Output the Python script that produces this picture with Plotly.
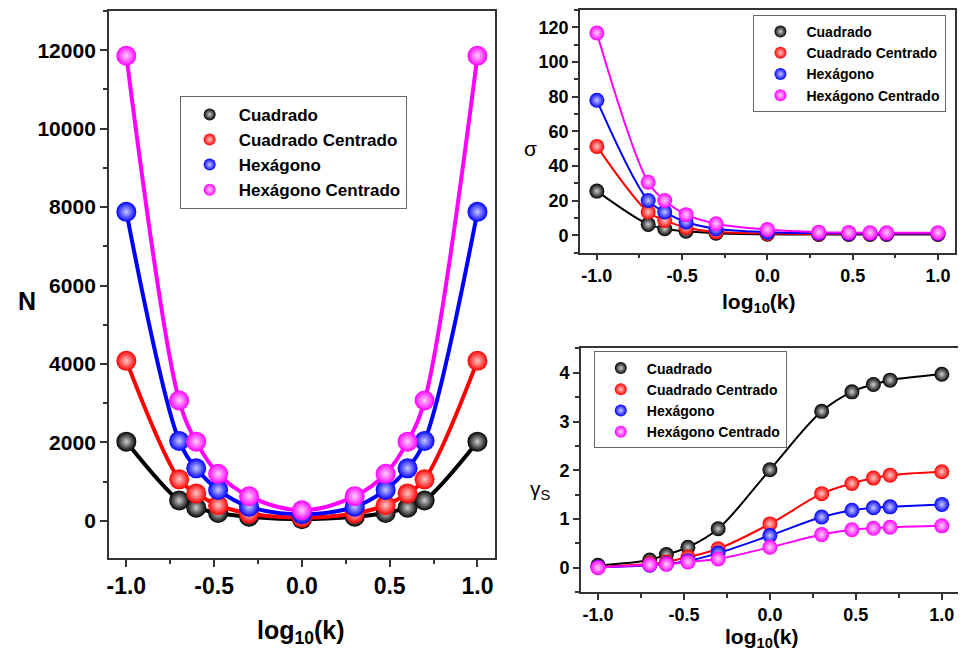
import plotly.graph_objects as go

# ---------------- data ----------------
log_k = [-1.0, -0.699, -0.602, -0.477, -0.301, 0.0, 0.301, 0.477, 0.602, 0.699, 1.0]
series_names = ["Cuadrado", "Cuadrado Centrado", "Hexágono", "Hexágono Centrado"]

N_cuadrado = [2020, 520, 336, 200, 105, 45, 105, 200, 336, 520, 2020]
N_cuadrado_centrado = [4080, 1060, 700, 400, 190, 85, 190, 400, 700, 1060, 4080]
N_hexagono = [7880, 2040, 1340, 790, 360, 170, 360, 790, 1340, 2040, 7880]
N_hexagono_centrado = [11860, 3070, 2020, 1200, 630, 270, 630, 1200, 2020, 3070, 11860]

sigma_cuadrado = [25.5, 6.3, 3.8, 2.3, 1.2, 0.6, 0.5, 0.5, 0.5, 0.5, 0.5]
sigma_cuadrado_centrado = [51.3, 13.4, 8.6, 4.5, 2.0, 1.0, 0.8, 0.8, 0.8, 0.8, 0.8]
sigma_hexagono = [77.9, 20.1, 13.4, 7.7, 3.8, 1.8, 1.2, 1.1, 1.1, 1.1, 1.1]
sigma_hexagono_centrado = [116.7, 30.6, 20.1, 11.9, 6.7, 3.3, 1.8, 1.6, 1.5, 1.5, 1.5]

gamma_cuadrado = [0.05, 0.16, 0.27, 0.42, 0.80, 2.01, 3.21, 3.61, 3.76, 3.85, 3.97]
gamma_cuadrado_centrado = [0.01, 0.08, 0.12, 0.22, 0.39, 0.90, 1.52, 1.73, 1.84, 1.90, 1.97]
gamma_hexagono = [0.01, 0.05, 0.08, 0.14, 0.30, 0.66, 1.04, 1.18, 1.23, 1.25, 1.30]
gamma_hexagono_centrado = [0.00, 0.06, 0.07, 0.12, 0.18, 0.42, 0.68, 0.78, 0.81, 0.83, 0.86]

x_tickvals = [-1.0, -0.5, 0.0, 0.5, 1.0]
x_ticktext = ["-1.0", "-0.5", "0.0", "0.5", "1.0"]

colors = ["#000000", "#ff0000", "#0000ff", "#ff00ff"]
highlights = ["#cfcfcf", "#ffc8c8", "#c8c8ff", "#ffd0ff"]

N_data = [N_cuadrado, N_cuadrado_centrado, N_hexagono, N_hexagono_centrado]
sigma_data = [sigma_cuadrado, sigma_cuadrado_centrado, sigma_hexagono, sigma_hexagono_centrado]
gamma_data = [gamma_cuadrado, gamma_cuadrado_centrado, gamma_hexagono, gamma_hexagono_centrado]

FONT = "Liberation Sans, Arial, sans-serif"
OFF = 8            # page body margin of the browser
W, H = 966 - OFF, 654 - OFF

fig = go.Figure()

def add_panel(data, xa, ya, legend, lw, ms):
    for i, name in enumerate(series_names):
        fig.add_trace(go.Scatter(
            x=log_k, y=data[i], mode="lines", xaxis=xa, yaxis=ya,
            line=dict(color=colors[i], width=lw, shape="spline", smoothing=1.0),
            showlegend=False, hoverinfo="skip"))
        fig.add_trace(go.Scatter(
            x=log_k, y=data[i], mode="markers", xaxis=xa, yaxis=ya,
            name=name, legend=legend,
            marker=dict(color=colors[i], size=ms,
                        gradient=dict(type="radial", color=highlights[i]),
                        line=dict(width=0))))

add_panel(N_data, "x", "y", "legend", 4, 20)
add_panel(sigma_data, "x2", "y2", "legend2", 2, 15)
add_panel(gamma_data, "x3", "y3", "legend3", 2, 15)

def px_x(p):
    return (p - OFF) / W

def px_y(p):
    return 1 - (p - OFF) / H

axis_common = dict(showline=True, linecolor="#333333", linewidth=1.5, mirror=True,
                   ticks="outside", tickcolor="#333333", zeroline=False, showgrid=False)

fig.update_layout(
    width=W, height=H,
    margin=dict(l=0, r=0, t=0, b=0),
    plot_bgcolor="white", paper_bgcolor="white",
    font=dict(family=FONT, color="black"),
    xaxis=dict(domain=[px_x(107), px_x(494)], anchor="y", range=[-1.1, 1.1],
               tickvals=x_tickvals, ticktext=x_ticktext, ticklen=7, tickwidth=1.5,
               minor=dict(ticks="outside", ticklen=4, dtick=0.25, tick0=0, tickcolor="#333333"),
               tickfont=dict(size=23, family=FONT, weight="bold"), **axis_common),
    yaxis=dict(domain=[px_y(558), px_y(10)], anchor="x", range=[-950, 13000],
               dtick=2000, tick0=0, tickformat="d", ticklen=7, tickwidth=1.5,
               minor=dict(ticks="outside", ticklen=4, dtick=1000, tickcolor="#333333"),
               tickfont=dict(size=21, family=FONT, weight="bold"), **axis_common),
    xaxis2=dict(domain=[px_x(579), px_x(955)], anchor="y2", range=[-1.1, 1.1],
                tickvals=x_tickvals, ticktext=x_ticktext, ticklen=6, tickwidth=1.5,
                minor=dict(ticks="outside", ticklen=4, dtick=0.25, tick0=0, tickcolor="#333333"),
                tickfont=dict(size=18, family=FONT, weight="bold"), **axis_common),
    yaxis2=dict(domain=[px_y(252), px_y(9)], anchor="x2", range=[-10, 130],
                dtick=20, tick0=0, ticklen=6, tickwidth=1.5,
                minor=dict(ticks="outside", ticklen=4, dtick=10, tickcolor="#333333"),
                tickfont=dict(size=18, family=FONT, weight="bold"), **axis_common),
    xaxis3=dict(domain=[px_x(580), px_x(959)], anchor="y3", range=[-1.1, 1.1],
                tickvals=x_tickvals, ticktext=x_ticktext, ticklen=6, tickwidth=1.5,
                minor=dict(ticks="outside", ticklen=4, dtick=0.25, tick0=0, tickcolor="#333333"),
                tickfont=dict(size=18, family=FONT, weight="bold"), **axis_common),
    yaxis3=dict(domain=[px_y(592), px_y(348)], anchor="x3", range=[-0.5, 4.5],
                dtick=1, tick0=0, ticklen=6, tickwidth=1.5,
                minor=dict(ticks="outside", ticklen=4, dtick=0.5, tickcolor="#333333"),
                tickfont=dict(size=18, family=FONT, weight="bold"), **axis_common),
    legend=dict(x=px_x(178), y=px_y(95), xanchor="left", yanchor="top",
                bordercolor="#666666", borderwidth=1, bgcolor="white", itemwidth=48,
                font=dict(size=17, family=FONT, weight="bold"), itemsizing="constant"),
    legend2=dict(x=px_x(753), y=px_y(14), xanchor="left", yanchor="top",
                 bordercolor="#666666", borderwidth=1, bgcolor="white", itemwidth=42,
                 font=dict(size=14, family=FONT, weight="bold"), itemsizing="constant"),
    legend3=dict(x=px_x(593), y=px_y(351), xanchor="left", yanchor="top",
                 bordercolor="#666666", borderwidth=1, bgcolor="white", itemwidth=42,
                 font=dict(size=14, family=FONT, weight="bold"), itemsizing="constant"),
)

def title(text, x, y, size, angle=0, bold=True):
    fig.add_annotation(text=text, x=px_x(x), y=px_y(y), xref="paper", yref="paper",
                       showarrow=False, textangle=angle, xanchor="center", yanchor="middle",
                       font=dict(size=size, family=FONT, color="black",
                                 weight="bold" if bold else "normal"))

title("log<sub>10</sub>(k)", 300, 632, 25)
title("N", 25, 300, 25)
title("log<sub>10</sub>(k)", 759, 302, 21)
title("σ", 530, 148, 21, bold=False)
title("log<sub>10</sub>(k)", 762, 638, 21)
title("γ<sub>S</sub>", 540, 490, 21, bold=False)

fig.write_html("out.html")
